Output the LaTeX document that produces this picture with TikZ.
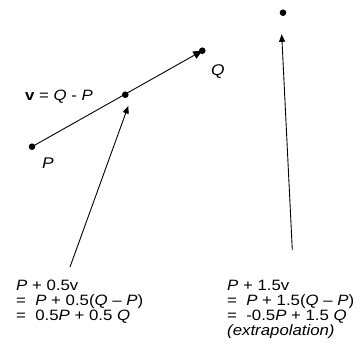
\documentclass[tikz,border=0pt]{standalone}
\usepackage{fontspec}
\setmainfont{Liberation Sans}
\usetikzlibrary{arrows.meta}
\begin{document}
\begin{tikzpicture}[x=1pt,y=-1pt,
  dot/.style={circle,fill=black,inner sep=0pt,minimum size=6.6pt},
  lbl/.style={inner sep=0pt,anchor=base west,xscale=1.12,font=\fontsize{15}{15}\selectfont},
  clbl/.style={inner sep=0pt,xscale=1.12,font=\fontsize{15.5}{15.5}\selectfont},
  bigarrow/.style={line width=0.9pt,-{Triangle[length=9pt,width=8pt]}},
  smallarrow/.style={line width=0.9pt,-{Triangle[length=7.5pt,width=6pt]}}]
\useasboundingbox (0,0) rectangle (360,360);
% points
\node[dot] (P) at (32,146.7) {};
\node[dot] (M) at (125.3,94.7) {};
\node[dot] (Q) at (202.3,50.7) {};
\node[dot] (E) at (283,12.7) {};
% labels
\node[clbl] (Pl) at (48,163) {\textit{P}};
\node[clbl] (Ql) at (218,72) {\textit{Q}};
\node[lbl] (vl) at (25,100.5) {\textbf{v} = \textit{Q} - \textit{P}};
% main vector
\draw[bigarrow] (P.center) -- (Q.center);
% pointer arrows
\coordinate (a1s) at (70,267);
\coordinate (a1e) at (128.3,106);
\coordinate (a2s) at (292.3,250);
\coordinate (a2e) at (281.7,34.3);
\draw[smallarrow] (a1s) -- (a1e);
\draw[smallarrow] (a2s) -- (a2e);
% left text block
\node[lbl] (L1) at (16,290) {\textit{P} + 0.5v};
\node[lbl] (L2) at (16,305) {=\ \ \textit{P} + 0.5(\textit{Q} – \textit{P})};
\node[lbl] (L3) at (16,320) {=\ \ 0.5\textit{P} + 0.5 \textit{Q}};
% right text block
\node[lbl] (R1) at (227,290) {\textit{P} + 1.5v};
\node[lbl] (R2) at (227,305) {=\ \ \textit{P} + 1.5(\textit{Q} – \textit{P})};
\node[lbl] (R3) at (227,320) {=\ \ -0.5\textit{P} + 1.5 \textit{Q}};
\node[lbl] (R4) at (227,335) {\textit{(extrapolation)}};
\end{tikzpicture}
\end{document}
